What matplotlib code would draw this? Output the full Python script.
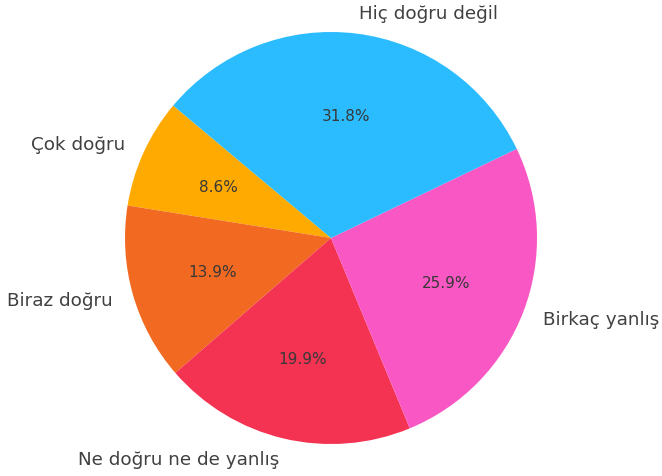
import matplotlib
matplotlib.use("Agg")
import matplotlib.pyplot as plt

labels = ["Çok doğru", "Biraz doğru", "Ne doğru ne de yanlış", "Birkaç yanlış", "Hiç doğru değil"]
values = [8.6, 13.9, 19.9, 25.9, 31.8]
colors = ["#FFAA00", "#F26A21", "#F43353", "#F957C3", "#2BBCFF"]

fig = plt.figure(figsize=(6.62, 4.77), dpi=100)
# square axes so the pie sits a bit low in the frame
ax = fig.add_axes([0.111, -0.0409, 0.778, 1.0797])

wedges, texts, autotexts = ax.pie(values, labels=labels, colors=colors,
                                  startangle=140, autopct="%1.1f%%",
                                  textprops={"fontsize": 13.2, "color": "#404040"})
for t in autotexts:
    t.set_fontsize(11)
    t.set_color("#383838")

ax.set_xlim(-1.25, 1.25)
ax.set_ylim(-1.25, 1.25)
ax.set_aspect("equal")
fig.savefig("out.png", dpi=100)
